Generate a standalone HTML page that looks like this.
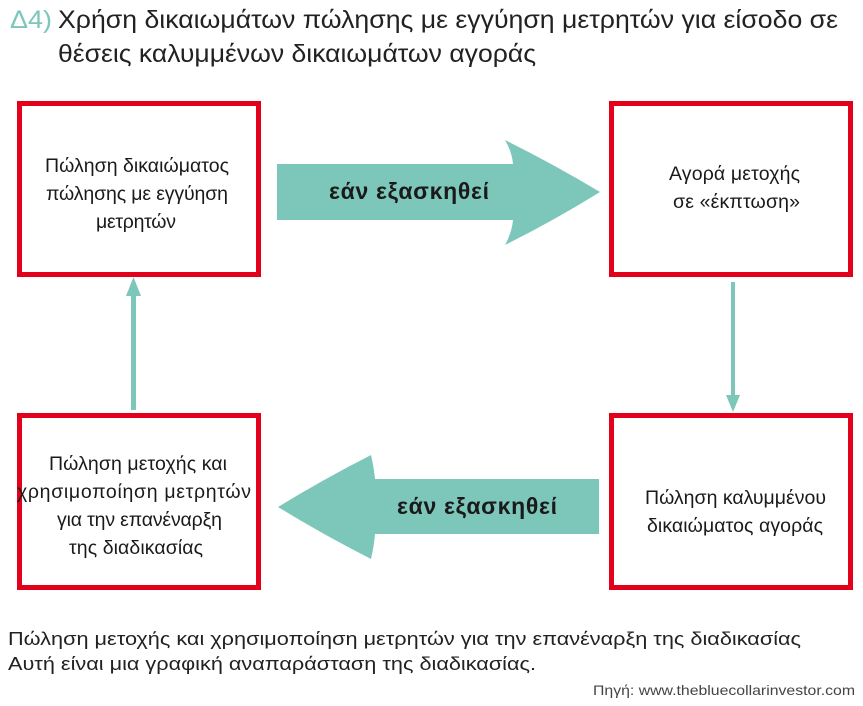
<!DOCTYPE html>
<html><head><meta charset="utf-8"><style>
body{margin:0;background:#fff;}
svg text{font-family:"Liberation Sans Narrow","Liberation Sans","Noto Sans CJK SC",sans-serif;}
</style></head><body>
<svg width="863" height="701" viewBox="0 0 863 701" xmlns="http://www.w3.org/2000/svg">
<text x="10" y="28" font-size="25" fill="#7cc6ba" textLength="42" lengthAdjust="spacingAndGlyphs">Δ4)</text>
<text x="58" y="28" font-size="25" fill="#222" textLength="780" lengthAdjust="spacingAndGlyphs">Χρήση δικαιωμάτων πώλησης με εγγύηση μετρητών για είσοδο σε</text>
<text x="58" y="62" font-size="25" fill="#222" textLength="478" lengthAdjust="spacingAndGlyphs">θέσεις καλυμμένων δικαιωμάτων αγοράς</text>

<g fill="none" stroke="#e2001a" stroke-width="5">
<rect x="19.5" y="103.5" width="239" height="171"/>
<rect x="611.5" y="103.5" width="239" height="171"/>
<rect x="19.5" y="415.5" width="239" height="172"/>
<rect x="611.5" y="415.5" width="239" height="172"/>
</g>

<g fill="#7cc6ba">
<path d="M277 164 H513 Q512 152 505 140 Q555 165 600 192 Q555 220 505 245 Q512 232 513 220 H277Z"/>
<path d="M599 479 H375 Q374 468 371 455 Q322 480 278 507 Q322 534 371 559 Q374 546 375 534 H599Z"/>
<rect x="131" y="292" width="5" height="118"/>
<path d="M133.5 277 L126 296 L141 296Z"/>
<rect x="731" y="282" width="4" height="116"/>
<path d="M733 412 L726 395 L740 395Z"/>
</g>

<g font-size="19.5" fill="#1a1a1a" lengthAdjust="spacingAndGlyphs">
<text x="45" y="172" textLength="184">Πώληση δικαιώματος</text>
<text x="46" y="200" textLength="182">πώλησης με εγγύηση</text>
<text x="96" y="228" textLength="80">μετρητών</text>
<text x="669" y="180" textLength="131">Αγορά μετοχής</text>
<text x="673" y="208" textLength="127">σε «έκπτωση»</text>
<text x="49" y="470" textLength="178">Πώληση μετοχής και</text>
<text x="17" y="498" textLength="234">χρησιμοποίηση μετρητών</text>
<text x="57" y="526" textLength="165">για την επανέναρξη</text>
<text x="69" y="554" textLength="134">της διαδικασίας</text>
<text x="645" y="504" textLength="181">Πώληση καλυμμένου</text>
<text x="647" y="532" textLength="176">δικαιώματος αγοράς</text>
</g>
<g font-size="23" font-weight="bold" fill="#1a1a1a" lengthAdjust="spacingAndGlyphs">
<text x="329" y="199" textLength="160">εάν εξασκηθεί</text>
<text x="397" y="514" textLength="160">εάν εξασκηθεί</text>
</g>

<text x="8" y="645" font-size="18" fill="#222" textLength="793" lengthAdjust="spacingAndGlyphs">Πώληση μετοχής και χρησιμοποίηση μετρητών για την επανέναρξη της διαδικασίας</text>
<text x="8" y="670" font-size="18" fill="#222" textLength="528" lengthAdjust="spacingAndGlyphs">Αυτή είναι μια γραφική αναπαράσταση της διαδικασίας.</text>
<text x="855" y="695" font-size="14" fill="#444" text-anchor="end" textLength="262" lengthAdjust="spacingAndGlyphs">Πηγή: www.thebluecollarinvestor.com</text>
</svg>
</body></html>
